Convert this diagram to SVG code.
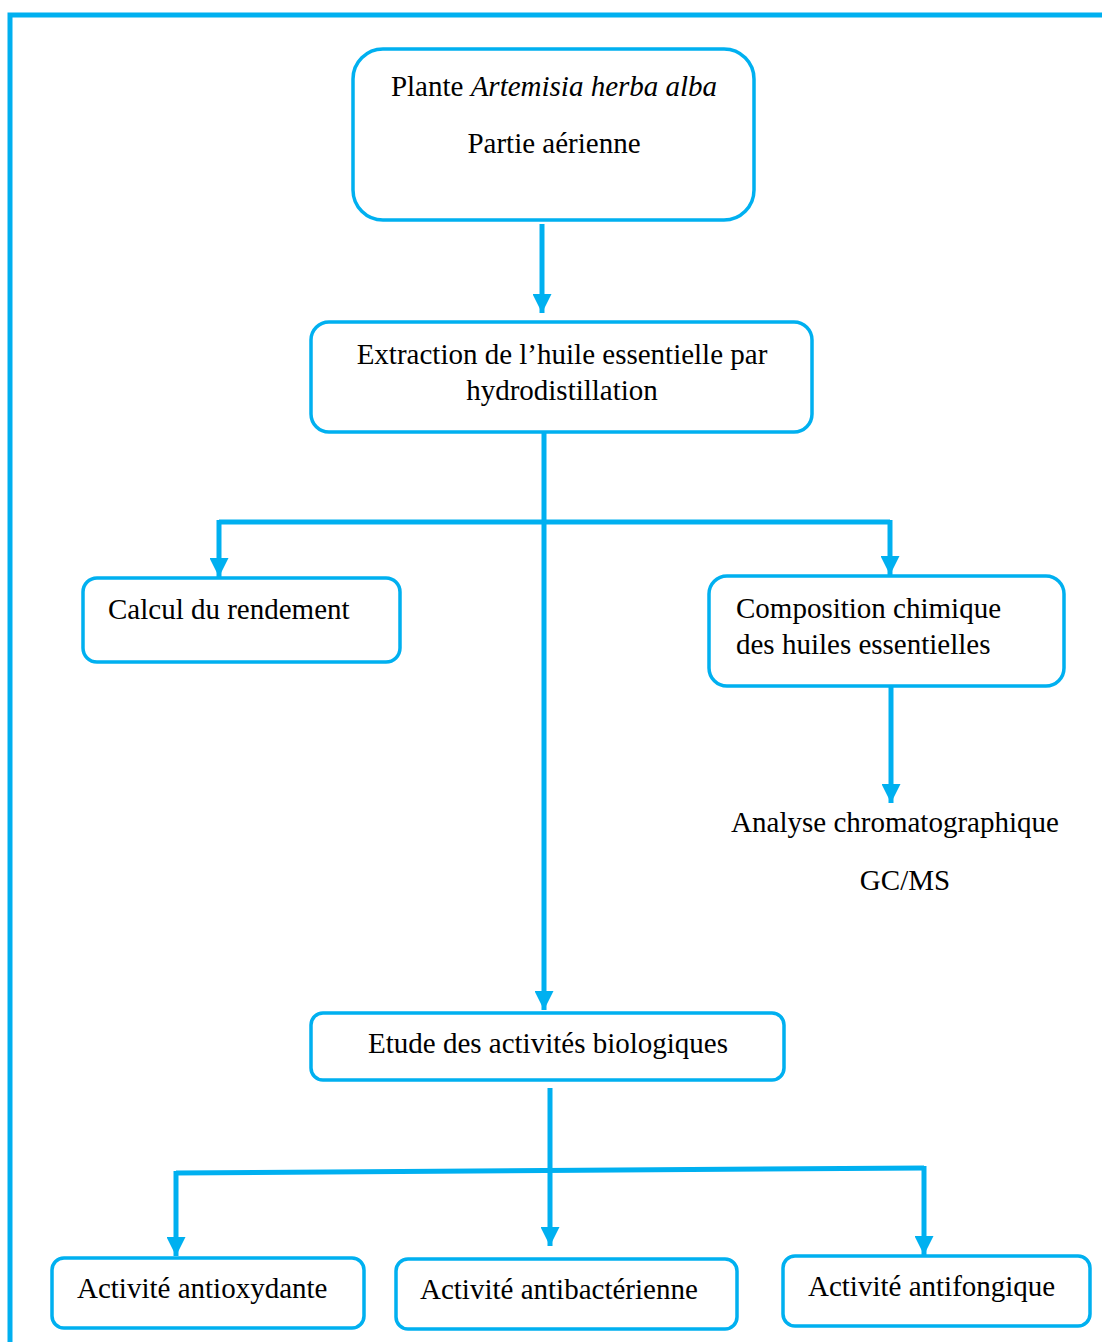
<svg xmlns="http://www.w3.org/2000/svg" width="1102" height="1342" viewBox="0 0 1102 1342">
<defs>
<style>
.frame{fill:none;stroke:#00B0F0;stroke-width:5}
.box{fill:#fff;stroke:#00B0F0;stroke-width:3.5}
.conn{fill:none;stroke:#00B0F0;stroke-width:5}
text{font-family:"Liberation Serif","Times New Roman",serif;font-size:29px;fill:#000}
</style>
<marker id="ah" viewBox="0 0 10 10" refX="10" refY="5" markerUnits="userSpaceOnUse" markerWidth="19" markerHeight="19" orient="auto">
<path d="M0,0 L10,5 L0,10 Z" fill="#00B0F0"/>
</marker>
</defs>
<rect width="1102" height="1342" fill="#fff"/>
<rect class="frame" x="10" y="15" width="1120" height="1360"/>
<g id="connectors">
<path class="conn" d="M542,224 V313" marker-end="url(#ah)"/>
<path class="conn" d="M544,432 V1010" marker-end="url(#ah)"/>
<path class="conn" d="M219,522 H890"/>
<path class="conn" d="M219,520 V577" marker-end="url(#ah)"/>
<path class="conn" d="M890,520 V575" marker-end="url(#ah)"/>
<path class="conn" d="M891,686 V803" marker-end="url(#ah)"/>
<path class="conn" d="M550,1088 V1246" marker-end="url(#ah)"/>
<path class="conn" d="M176,1173 L924,1168"/>
<path class="conn" d="M176,1171 V1256" marker-end="url(#ah)"/>
<path class="conn" d="M924,1166 V1255" marker-end="url(#ah)"/>
</g>
<g id="plante">
<rect class="box" x="353" y="49" width="401" height="171" rx="30"/>
<text x="554" y="96" text-anchor="middle">Plante <tspan font-style="italic">Artemisia herba alba</tspan></text>
<text x="554" y="153" text-anchor="middle">Partie aérienne</text>
</g>
<g id="extraction">
<rect class="box" x="311" y="322" width="501" height="110" rx="18"/>
<text x="562" y="364" text-anchor="middle">Extraction de l’huile essentielle par</text>
<text x="562" y="400" text-anchor="middle">hydrodistillation</text>
</g>
<g id="calcul">
<rect class="box" x="83" y="578" width="317" height="84" rx="14"/>
<text x="108" y="619">Calcul du rendement</text>
</g>
<g id="composition">
<rect class="box" x="709" y="576" width="355" height="110" rx="18"/>
<text x="736" y="618">Composition chimique</text>
<text x="736" y="654">des huiles essentielles</text>
</g>
<g id="analyse">
<text x="895" y="832" text-anchor="middle">Analyse chromatographique</text>
<text x="905" y="890" text-anchor="middle">GC/MS</text>
</g>
<g id="etude">
<rect class="box" x="311" y="1013" width="473" height="67" rx="12"/>
<text x="548" y="1053" text-anchor="middle">Etude des activités biologiques</text>
</g>
<g id="antioxydante">
<rect class="box" x="52" y="1258" width="312" height="70" rx="12"/>
<text x="77" y="1298">Activité antioxydante</text>
</g>
<g id="antibacterienne">
<rect class="box" x="396" y="1259" width="341" height="70" rx="12"/>
<text x="420" y="1299">Activité antibactérienne</text>
</g>
<g id="antifongique">
<rect class="box" x="783" y="1256" width="307" height="70" rx="12"/>
<text x="808" y="1296">Activité antifongique</text>
</g>
</svg>
